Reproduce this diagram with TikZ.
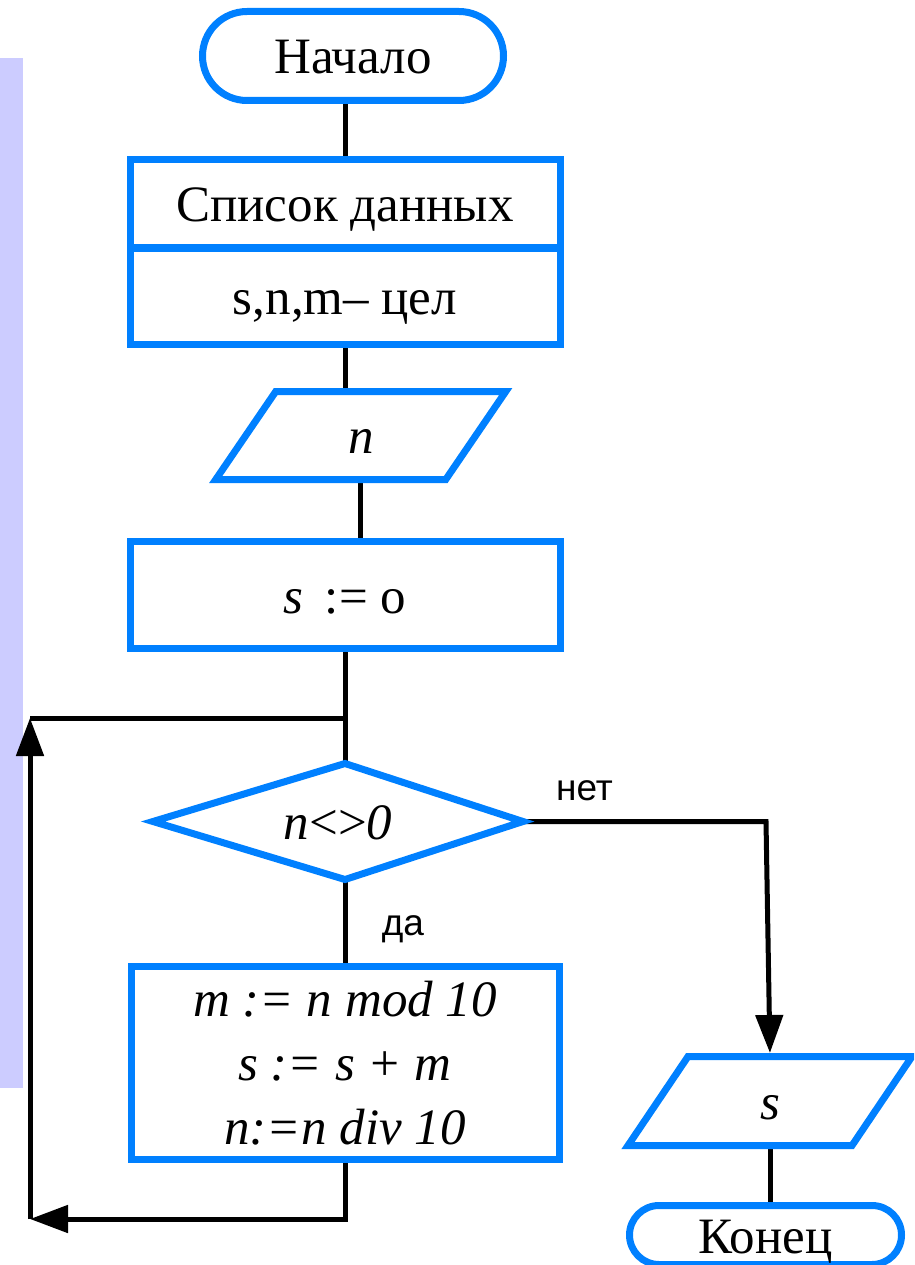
\documentclass[tikz,border=0pt]{standalone}
\usepackage{fontspec}
\setmainfont{Liberation Serif}
\newfontfamily\sansf{Liberation Sans}
\usetikzlibrary{shapes.misc,arrows.meta}
\pgfdeclarelayer{bg}
\pgfsetlayers{bg,main}
\definecolor{fcblue}{RGB}{0,128,255}
\definecolor{lav}{RGB}{204,204,255}
\begin{document}
\begin{tikzpicture}[x=1pt,y=-1pt,
  bx/.style={draw=fcblue, line width=7pt, inner sep=0pt, outer sep=0pt, rectangle,
    font=\fontsize{51pt}{61pt}\selectfont},
  tx/.style={text height=36pt, text depth=0pt},
  term/.style={rounded rectangle},
  ghost/.style={rectangle, inner sep=0pt, outer sep=0pt, text height=36pt, text depth=0pt,
    font=\fontsize{51pt}{61pt}\selectfont},
  blueline/.style={draw=fcblue, line width=7pt, line join=miter},
  conn/.style={line width=5pt, draw=black},
  arr/.style={conn, -{Triangle[length=38pt,width=27pt]}},
  lbl/.style={font=\sansf\fontsize{37pt}{44pt}\selectfont, inner sep=0pt, anchor=base}]
\useasboundingbox (0,0) rectangle (914,1265);
\clip (0,0) rectangle (914,1265);

% shapes
\node[bx,tx,term,minimum width=301pt,minimum height=89pt] (start) at (353,56) {Начало};
\node[bx,tx,minimum width=430pt,minimum height=88.5pt] (dat1) at (345,203.75) {Список данных};
\node[bx,tx,minimum width=430pt,minimum height=96.5pt] (dat2) at (345,296.25) {s,n,m– цел};

\node[ghost,minimum width=230pt,minimum height=88pt] (inp) at (360.75,435.5) {\itshape n};
\draw[blueline] ([xshift=-30pt]inp.south west) -- ([xshift=30pt]inp.north west)
  -- ([xshift=30pt]inp.north east) -- ([xshift=-30pt]inp.south east) -- cycle;

\node[bx,tx,minimum width=430pt,minimum height=107pt] (init) at (345,595) {{\itshape s}\, := o};

\node[ghost,minimum width=370pt,minimum height=116pt] (cond) at (338,821.5) {{\itshape n}<>{\itshape 0}};
\draw[blueline] (cond.west) -- (cond.north -| init.south) -- (cond.east)
  -- (cond.south -| init.south) -- cycle;

\node[bx,minimum width=428pt,minimum height=193pt,align=center,
  font=\fontsize{51pt}{64pt}\selectfont\itshape] (body) at (345,1063)
  {m := n mod 10\\ s := s + m\\ n:=n div 10};

\node[ghost,minimum width=224pt,minimum height=89pt] (outp) at (770,1101) {\itshape s};
\draw[blueline] ([xshift=-30pt]outp.south west) -- ([xshift=30pt]outp.north west)
  -- ([xshift=30pt]outp.north east) -- ([xshift=-30pt]outp.south east) -- cycle;

\node[bx,tx,term,minimum width=272pt,minimum height=59pt] (stop) at (765.5,1235) {Конец};

% labels
\node[lbl] (no) at (584.5,800) {нет};
\node[lbl] (yes) at (403,935) {да};

% helper points
\coordinate (ctl) at (30,718);
\coordinate (cbl) at (30,1219);
\coordinate (cr) at (766,821.5);

\begin{pgfonlayer}{bg}
\fill[lav] (0,58) rectangle (22.5,1088);
\draw[conn] (start.south -| dat1.north) -- (dat1.north);
\draw[conn] (dat2.south) -- (dat2.south |- inp.north);
\draw[conn] (inp.south) -- (inp.south |- init.north);
\draw[conn] (init.south) -- (init.south |- cond.north);
\draw[conn] (ctl) -- (ctl -| init.south);
\draw[conn] (init.south |- cond.south) -- (body.north);
\draw[arr, shorten >=3.5pt] (cond.east) -- (cr) -- (outp.north);
\draw[conn] (outp.south) -- (outp.south |- stop.north);
\draw[arr] (body.south) |- (cbl);
\draw[arr] (cbl) -- (ctl);
\end{pgfonlayer}
\end{tikzpicture}
\end{document}
